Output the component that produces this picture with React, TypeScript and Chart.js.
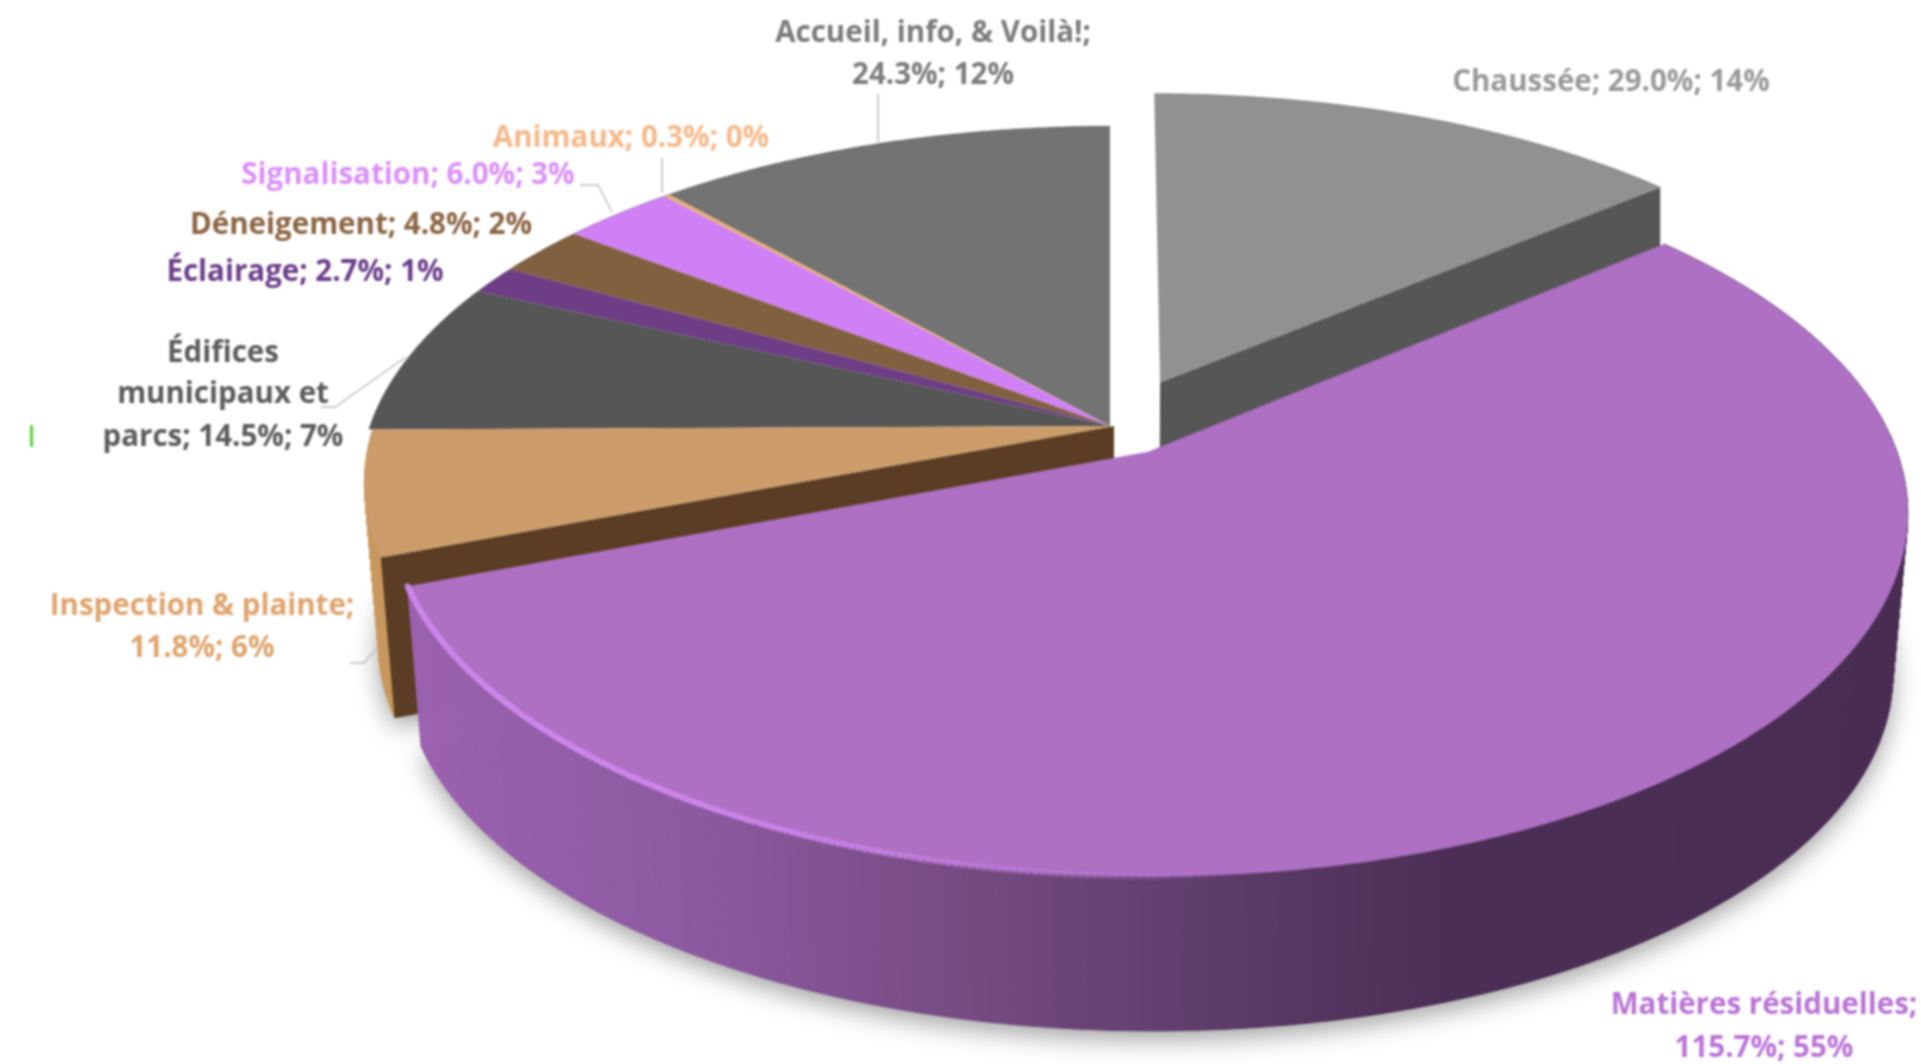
import React, { useEffect, useRef } from "react";
import { Chart, registerables } from "chart.js";

Chart.register(...registerables);

// ---- data ----
const categories = ["Chaussée", "Matières résiduelles", "Inspection & plainte", "Édifices municipaux et parcs", "Éclairage", "Déneigement", "Signalisation", "Animaux", "Accueil, info, & Voilà!"];
const values = [29.0, 115.7, 11.8, 14.5, 2.7, 4.8, 6.0, 0.3, 24.3];
const labelLines = [
  ["Chaussée; 29.0%; 14%"],
  ["Matières résiduelles;", "115.7%; 55%"],
  ["Inspection & plainte;", "11.8%; 6%"],
  ["Édifices", "municipaux et", "parcs; 14.5%; 7%"],
  ["Éclairage; 2.7%; 1%"],
  ["Déneigement; 4.8%; 2%"],
  ["Signalisation; 6.0%; 3%"],
  ["Animaux; 0.3%; 0%"],
  ["Accueil, info, & Voilà!;", "24.3%; 12%"],
];

// ---- style ----
const topColors = ["#919191", "#ad70c3", "#cc9c6a", "#565656", "#6d3d85", "#80603f", "#d080f5", "#e8b070", "#737373"];
const labelColors = ["#9a9a9a", "#b974d6", "#e0a46e", "#5c5c5c", "#6b3e8a", "#8b6543", "#da90f8", "#f5b98a", "#7c7c7c"];
const explode = [70, 42, 0, 0, 0, 0, 0, 0, 0];
const nudgeX = [7, 6, 4, 0, 0, 0, 0, 0, 0];
const labelX = [1611, 1764, 202, 223, 305, 361, 408, 631, 933];
const labelY = [[81], [1004, 1047], [605, 647], [352, 393, 436], [271], [224], [174], [137], [32, 74]];
const leaders: number[][][] = [
  [[878, 93], [878, 142]],
  [[662, 158], [662, 193]],
  [[580, 185], [598, 185], [612, 212]],
  [[321, 407], [335, 407], [406, 357]],
  [[350, 663], [364, 663], [375, 650]],
];
const drawOrder = [8, 7, 6, 5, 4, 3, 0, 2, 1];
const view = { cx: 1110, cy: 426, R: 740, Rb: 726, k: 0.47, p: 0.16, depth: 163 };
const wallStops: [number, number[]][] = [
  [413, [156, 98, 176]], [700, [140, 90, 160]], [1000, [115, 73, 127]],
  [1250, [90, 58, 102]], [1450, [75, 46, 85]], [1908, [74, 45, 83]],
];

const project = (u: number, v: number, bottom: boolean, dx: number) => {
  const w = 1 - view.p * v;
  const r = bottom ? view.Rb : view.R;
  return [view.cx + dx + (r * u) / w, view.cy + (bottom ? view.depth : 0) + (r * view.k * v) / w];
};

const wallColor = (x: number) => {
  for (let i = 1; i < wallStops.length; i++) {
    if (x <= wallStops[i][0] || i === wallStops.length - 1) {
      const [x0, c0] = wallStops[i - 1];
      const [x1, c1] = wallStops[i];
      const t = Math.max(0, Math.min(1, (x - x0) / (x1 - x0)));
      return `rgb(${c0.map((c, j) => Math.round(c + (c1[j] - c) * t)).join(",")})`;
    }
  }
  return "#4a2d53";
};

const sliceGeom = (arc: any, dx: number) => {
  const mid = (arc.startAngle + arc.endAngle) / 2;
  const e = (arc.options.offset || 0) / arc.outerRadius;
  const su = e * Math.cos(mid);
  const sv = e * Math.sin(mid);
  const rim = (a: number, bottom: boolean) => project(su + Math.cos(a), sv + Math.sin(a), bottom, dx);
  return { su, sv, rim, apex: (bottom: boolean) => project(su, sv, bottom, dx), a0: arc.startAngle, a1: arc.endAngle };
};

const fan = (a0: number, a1: number, n: number) => {
  const out: number[] = [];
  for (let i = 0; i <= n; i++) out.push(a0 + ((a1 - a0) * i) / n);
  return out;
};

const pie3d = {
  id: "pie3d",
  beforeDatasetsDraw(chart: any) {
    const ctx = chart.ctx;
    const arcs = chart.getDatasetMeta(0).data;
    for (const i of drawOrder) {
      const arc = arcs[i];
      const g = sliceGeom(arc, nudgeX[i]);
      const steps = fan(g.a0, g.a1, Math.max(6, Math.ceil((g.a1 - g.a0) * 120)));
      ctx.save();
      ctx.lineJoin = "round";
      if (i === 0) {
        // cut face seen on the right of the first slice
        const a = g.apex(false), b = g.rim(g.a1, false), c = g.rim(g.a1, true), d = g.apex(true);
        ctx.fillStyle = "#565656";
        ctx.beginPath();
        ctx.moveTo(a[0], a[1]); ctx.lineTo(b[0], b[1]); ctx.lineTo(b[0], c[1]); ctx.lineTo(d[0], d[1]);
        ctx.closePath();
        ctx.fill();
      }
      if (i === 2 || i === 1) {
        // shadow under the raised slices
        ctx.save();
        ctx.shadowColor = "rgba(0,0,0,0.38)";
        ctx.shadowBlur = 26;
        ctx.shadowOffsetY = 8;
        ctx.fillStyle = i === 1 ? "#4a2d53" : "#8f6c48";
        ctx.beginPath();
        steps.forEach((a: number, n: number) => {
          const p = g.rim(a, true);
          if (n === 0) ctx.moveTo(p[0], p[1]); else ctx.lineTo(p[0], p[1]);
        });
        const ap = g.apex(true);
        ctx.lineTo(ap[0], ap[1]);
        ctx.closePath();
        ctx.fill();
        ctx.restore();
        // outer wall
        for (let n = 0; n < steps.length - 1; n++) {
          const p0 = g.rim(steps[n], false), p1 = g.rim(steps[n + 1], false);
          const q0 = g.rim(steps[n], true), q1 = g.rim(steps[n + 1], true);
          const col = i === 1 ? wallColor((p0[0] + q0[0]) / 2) : "#c8985f";
          ctx.fillStyle = col;
          ctx.strokeStyle = col;
          ctx.lineWidth = 1;
          ctx.beginPath();
          ctx.moveTo(p0[0], p0[1]); ctx.lineTo(p1[0], p1[1]); ctx.lineTo(q1[0], q1[1]); ctx.lineTo(q0[0], q0[1]);
          ctx.closePath();
          ctx.fill();
          ctx.stroke();
        }
      }
      if (i === 2) {
        // dark cut face of the inspection slice
        const a = g.apex(false), b = g.rim(g.a0, false), c = g.rim(g.a0, true), d = g.apex(true);
        ctx.fillStyle = "#5a3d24";
        ctx.beginPath();
        ctx.moveTo(a[0], a[1]); ctx.lineTo(b[0], b[1]); ctx.lineTo(c[0], c[1]); ctx.lineTo(d[0], d[1]);
        ctx.closePath();
        ctx.fill();
      }
      // top surface, from the arc element's own angles and colour
      ctx.fillStyle = arc.options.backgroundColor;
      ctx.beginPath();
      const ap = g.apex(false);
      ctx.moveTo(ap[0], ap[1]);
      steps.forEach((a: number) => {
        const p = g.rim(a, false);
        ctx.lineTo(p[0], p[1]);
      });
      ctx.closePath();
      ctx.fill();
      // thin edge on the rim
      if (i !== 1 && i !== 2) {
        ctx.strokeStyle = "rgba(40,30,40,0.3)";
        ctx.lineWidth = 1;
        ctx.beginPath();
        steps.forEach((a: number, n: number) => {
          const p = g.rim(a, false);
          if (n === 0) ctx.moveTo(p[0], p[1]); else ctx.lineTo(p[0], p[1]);
        });
        ctx.stroke();
      }
      if (i === 1) {
        // bevel highlight on the lit side of the rim
        for (let n = 0; n < steps.length - 1; n++) {
          const u = Math.cos(steps[n]);
          const alpha = Math.max(0, Math.min(1, (0.1 - u) * 1.5)) * 0.9;
          if (alpha <= 0) continue;
          const p0 = g.rim(steps[n], false), p1 = g.rim(steps[n + 1], false);
          ctx.strokeStyle = `rgba(204,134,234,${alpha})`;
          ctx.lineWidth = 6;
          ctx.lineCap = "round";
          ctx.beginPath();
          ctx.moveTo(p0[0], p0[1]);
          ctx.lineTo(p1[0], p1[1]);
          ctx.stroke();
        }
      }
      ctx.restore();
    }
    return false;
  },
  afterDraw(chart: any) {
    const ctx = chart.ctx;
    ctx.save();
    ctx.strokeStyle = "#bdbdbd";
    ctx.lineWidth = 1.5;
    for (const line of leaders) {
      ctx.beginPath();
      line.forEach((p, n) => (n === 0 ? ctx.moveTo(p[0], p[1]) : ctx.lineTo(p[0], p[1])));
      ctx.stroke();
    }
    ctx.fillStyle = "#5fd03f";
    ctx.fillRect(30, 425, 3, 22);
    ctx.font = "bold 29.5px 'Open Sans', sans-serif";
    ctx.textAlign = "center";
    ctx.textBaseline = "middle";
    labelLines.forEach((lines, i) => {
      ctx.fillStyle = labelColors[i];
      lines.forEach((t, n) => ctx.fillText(t, labelX[i], labelY[i][n] + 2));
    });
    ctx.restore();
  },
};

export default function App() {
  const ref = useRef<HTMLCanvasElement>(null);
  useEffect(() => {
    document.body.style.margin = "0";
    document.body.style.background = "#ffffff";
    document.body.style.overflow = "hidden";
    const chart = new Chart(ref.current!, {
      type: "pie",
      data: {
        labels: categories,
        datasets: [{ data: values, backgroundColor: topColors, offset: explode, borderWidth: 0, hoverOffset: 0 } as any],
      },
      options: {
        responsive: false,
        animation: false,
        rotation: 0,
        layout: { padding: 0 },
        plugins: { legend: { display: false }, tooltip: { enabled: false } },
      },
      plugins: [pie3d as any],
    });
    return () => chart.destroy();
  }, []);
  return <canvas ref={ref} width={1921} height={1064} style={{ display: "block", filter: "blur(0.8px)" }} />;
}
